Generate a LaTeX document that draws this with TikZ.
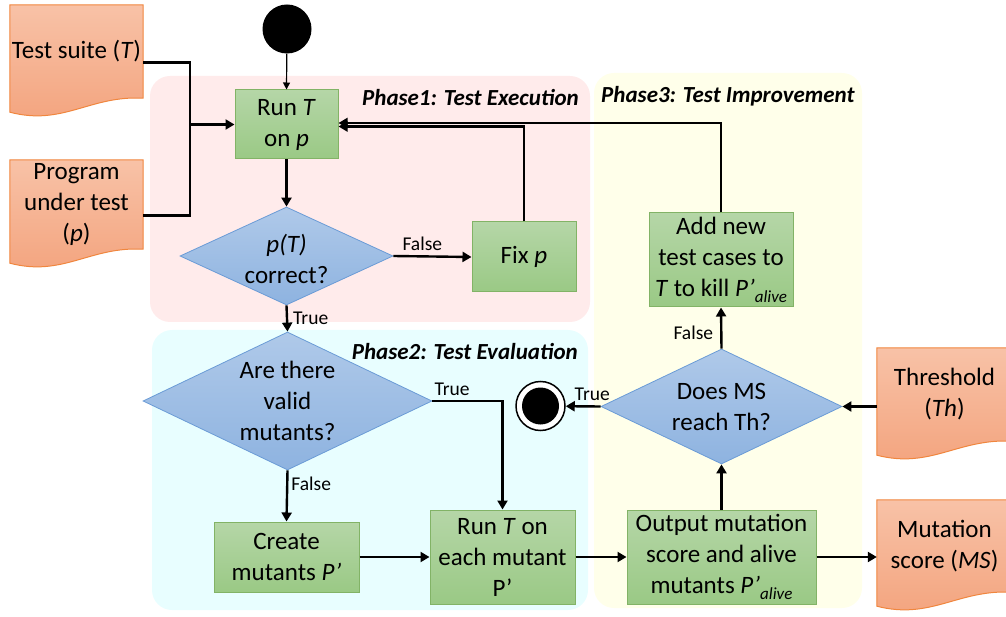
\documentclass[tikz,border=0pt]{standalone}
\usepackage{fontspec}
\setmainfont{Carlito}
\usetikzlibrary{shapes.geometric,arrows.meta,calc}
\pgfdeclarelayer{bg}
\pgfsetlayers{bg,main}

\definecolor{boxtop}{HTML}{B5D6A7}
\definecolor{boxbot}{HTML}{9AC985}
\definecolor{boxline}{HTML}{82B366}
\definecolor{dtop}{HTML}{AFC9E9}
\definecolor{dbot}{HTML}{8EB3E0}
\definecolor{dline}{HTML}{6A9BD6}
\definecolor{doctop}{HTML}{F8C2A7}
\definecolor{docbot}{HTML}{F3A37D}
\definecolor{docline}{HTML}{F0863E}
\definecolor{phaseA}{HTML}{FFEBEB}
\definecolor{phaseB}{HTML}{E8FEFF}
\definecolor{phaseC}{HTML}{FFFFEA}

% lowered italic subscript
\newcommand\alivesub{\raisebox{-6pt}{\fontsize{17}{17}\selectfont\itshape alive}}

% wavy document outline hung from the rectangular body node #1
\newcommand\docwave[1]{%
  \path[docshape] let \p1=(#1.north west), \p2=(#1.south east) in
    (\p1) -- (\x2,\y1) -- (\p2)
    .. controls ({\x1+0.6*(\x2-\x1)},{\y2+3pt}) and ({\x1+0.4*(\x2-\x1)},{\y2-28pt})
    .. (\x1,{\y2-14pt}) -- cycle;}

\tikzset{
  txt/.style={font=\fontsize{25}{31}\selectfont, align=center, inner sep=0pt},
  procbox/.style={txt, rectangle, draw=boxline, line width=1pt, top color=boxtop, bottom color=boxbot},
  decision/.style={diamond, draw=dline, line width=0.8pt, top color=dtop, bottom color=dbot, inner sep=0pt},
  docbody/.style={txt, rectangle},
  docshape/.style={draw=docline, line width=1pt, top color=doctop, bottom color=docbot},
  edgelbl/.style={font=\fontsize{19.5}{22}\selectfont, inner sep=0pt},
  phaselbl/.style={font=\fontsize{23}{27}\selectfont\bfseries\itshape, inner sep=0pt},
  phasebg/.style={rounded corners=20pt},
  flow/.style={line width=2.4pt, -{Triangle[length=9pt,width=10pt]}},
  link/.style={line width=2.4pt},
  thinflow/.style={line width=1.2pt, -{Triangle[length=7pt,width=7pt]}},
}

\begin{document}
\begin{tikzpicture}[x=1pt,y=-1pt]
\clip (0,0) rectangle (1006,617);

% phase areas
\begin{pgfonlayer}{bg}
  \fill[phaseA, phasebg] (150,76) rectangle (590,322);
  \fill[phaseB, phasebg] (152,330) rectangle (588,610);
  \fill[phaseC, phasebg] (594,73) rectangle (862,608);
\end{pgfonlayer}
\node[phaselbl, anchor=east] (ph1) at (579,98) {Phase1: Test Execution};
\node[phaselbl, anchor=east] (ph2) at (578,352) {Phase2: Test Evaluation};
\node[phaselbl, anchor=west] (ph3) at (601,96) {Phase3: Test Improvement};

% input and output documents
\node[docbody, minimum width=133, minimum height=93] (suite) at (76.5,51.5) {Test suite (\textit{T})};
\node[docbody, minimum width=133, minimum height=89] (prog) at (76.5,204.5) {Program\\under test\\(\textit{p})};
\node[docbody, minimum width=135, minimum height=93] (thresh) at (944.5,394.5) {Threshold\\(\textit{Th})};
\node[docbody, minimum width=135, minimum height=92] (ms) at (944.5,546) {Mutation\\score (\textit{MS})};
\begin{pgfonlayer}{bg}
  \docwave{suite}
  \docwave{prog}
  \docwave{thresh}
  \docwave{ms}
\end{pgfonlayer}

% start and end
\node[circle, fill=black, minimum size=49, inner sep=0pt] (start) at (287,29) {};
\node[circle, draw=black, line width=1.5pt, fill=white, minimum size=49, inner sep=0pt] (endc) at (540.5,406) {};
\node[circle, fill=black, minimum size=37, inner sep=0pt] (endcore) at (endc) {};

% process boxes
\node[procbox, minimum width=103, minimum height=69] (runT) at (286.5,124.5) {Run \textit{T}\\on \textit{p}};
\node[procbox, minimum width=104, minimum height=70] (fixp) at (524,257) {Fix \textit{p}};
\node[procbox, minimum width=144, minimum height=94] (addnew) at (721,260) {Add new\\test cases to\\\textit{T} to kill \textit{P’}\alivesub};
\node[procbox, minimum width=145, minimum height=70] (create) at (286.5,557) {Create\\mutants \textit{P’}};
\node[procbox, minimum width=145, minimum height=94] (runeach) at (502.5,557) {Run \textit{T} on\\each mutant\\P’};
\node[procbox, minimum width=189, minimum height=94] (output) at (721.5,557) {Output mutation\\score and alive\\mutants \textit{P’}\alivesub};

% decisions
\node[decision, minimum width=213, minimum height=98] (ptc) at (286.5,256) {};
\node[txt] (ptctext) at (286.5,259) {\textit{p(T)}\\correct?};
\node[decision, minimum width=289, minimum height=138] (valid) at (287.5,401) {};
\node[txt] (validtext) at (287.5,401) {Are there\\valid\\mutants?};
\node[decision, minimum width=241, minimum height=115] (msd) at (721.5,406.5) {};
\node[txt] (msdtext) at (721.5,407) {Does MS\\reach Th?};

% connectors
\coordinate (join) at (190,124.5);
\draw[link] ([yshift=-11pt]suite.east) -| (join);
\draw[link] ([yshift=-11pt]prog.east) -| (join);
\draw[flow] (join) -- (runT.west);
\draw[thinflow] (start) -- (runT.north);
\draw[flow] (runT.south) -- (ptc.north);
\draw[flow] (ptc.east) -- node[edgelbl, pos=0.37, above=5pt] (lf1) {False} (fixp.west);
\draw[flow] (fixp.north) |- ([yshift=-2pt]runT.east);
\draw[flow] (addnew.north) |- ([yshift=1.5pt]runT.east);
\draw[flow] (ptc.south) -- node[edgelbl, pos=0.5, right=5pt] (lt1) {True} (valid.north);
\draw[flow] (valid.east) -| node[edgelbl, pos=0.14, above=4pt] (lt2) {True} (runeach.north);
\draw[flow] (valid.south) -- node[edgelbl, pos=0.27, right=3pt] (lf2) {False} (create.north);
\draw[flow] (create.east) -- (runeach.west);
\draw[flow] (runeach.east) -- (output.west);
\draw[flow] (output.north) -- (msd.south);
\draw[flow] (msd.north) -- node[edgelbl, pos=0.38, left=7pt] (lf3) {False} (addnew.south);
\draw[flow] (msd.west) -- node[edgelbl, pos=0.24, above=5pt] (lt3) {True} (endc);
\draw[flow] (thresh.west |- msd.east) -- (msd.east);
\draw[flow] (output.east) -- (ms.west |- output.east);
\end{tikzpicture}
\end{document}
